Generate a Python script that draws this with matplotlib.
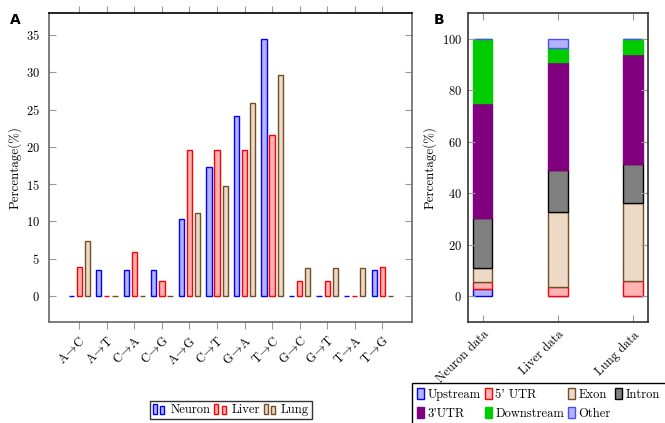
import matplotlib
matplotlib.use("Agg")
import matplotlib.pyplot as plt
from matplotlib.patches import Rectangle
from matplotlib.legend_handler import HandlerBase
import numpy as np

plt.rcParams['font.family'] = ['cmr10', 'DejaVu Serif']
plt.rcParams['mathtext.fontset'] = 'cm'
plt.rcParams['axes.unicode_minus'] = False
plt.rcParams['axes.formatter.use_mathtext'] = True

# ---------------- data ----------------
mutations = ['A$\\!\\rightarrow\\!$C', 'A$\\!\\rightarrow\\!$T', 'C$\\!\\rightarrow\\!$A', 'C$\\!\\rightarrow\\!$G',
             'A$\\!\\rightarrow\\!$G', 'C$\\!\\rightarrow\\!$T', 'G$\\!\\rightarrow\\!$A', 'T$\\!\\rightarrow\\!$C',
             'G$\\!\\rightarrow\\!$C', 'G$\\!\\rightarrow\\!$T', 'T$\\!\\rightarrow\\!$A', 'T$\\!\\rightarrow\\!$G']
neuron = [0, 3.45, 3.45, 3.45, 10.34, 17.24, 24.14, 34.48, 0, 0, 0, 3.45]
liver = [3.92, 0, 5.88, 1.96, 19.61, 19.61, 19.61, 21.57, 1.96, 1.96, 0, 3.92]
lung = [7.41, 0, 0, 0, 11.11, 14.81, 25.93, 29.63, 3.70, 3.70, 3.70, 0]
series_names = ['Neuron', 'Liver', 'Lung']

datasets = ['Neuron data', 'Liver data', 'Lung data']
regions = ['Upstream', "5' UTR", 'Exon', 'Intron', "3'UTR", 'Downstream', 'Other']
region_values = {
    'Upstream':   [2.7, 0.0, 0.0],
    "5' UTR":     [2.9, 3.6, 6.0],
    'Exon':       [5.4, 29.1, 30.3],
    'Intron':     [19.5, 16.3, 15.1],
    "3'UTR":      [44.5, 42.0, 42.6],
    'Downstream': [25.0, 5.4, 6.0],
    'Other':      [0.0, 3.6, 0.0],
}

# ---------------- styles ----------------
brown = (0.75, 0.5, 0.25)
def tint(c, f=0.3):
    return tuple(1 - f * (1 - v) for v in c)

series_style = [
    dict(fc=tint((0, 0, 1)), ec=(0, 0, 1)),
    dict(fc=tint((1, 0, 0)), ec=(1, 0, 0)),
    dict(fc=tint(brown), ec=(0.45, 0.3, 0.15)),
]
region_style = {
    'Upstream':   dict(fc=tint((0, 0, 1)), ec=(0, 0, 1)),
    "5' UTR":     dict(fc=tint((1, 0, 0)), ec=(1, 0, 0)),
    'Exon':       dict(fc=tint(brown), ec=(0.45, 0.3, 0.15)),
    'Intron':     dict(fc=(0.5, 0.5, 0.5), ec=(0, 0, 0)),
    "3'UTR":      dict(fc=(0.5, 0, 0.5), ec=(0.5, 0, 0.5)),
    'Downstream': dict(fc=(0, 0.8, 0), ec=(0, 0.8, 0)),
    'Other':      dict(fc=tint((0, 0, 1)), ec=(0.3, 0.3, 1)),
}

FS = 9
W, H = 665, 423
fig = plt.figure(figsize=(W / 100, H / 100), dpi=100)

def fx(px):
    return px / W
def fy(py):
    return 1 - py / H

axA = fig.add_axes([fx(49.3), fy(321.7), fx(412.3) - fx(49.3), fy(13.3) - fy(321.7)])
axB = fig.add_axes([fx(467.7), fy(321.7), fx(648) - fx(467.7), fy(13.3) - fy(321.7)])

# ---------------- panel A ----------------
x = np.arange(len(mutations))
offs = [-0.295, 0.0, 0.295]
bw = 0.19
bars = []
for vals, off, st in zip([neuron, liver, lung], offs, series_style):
    b = axA.bar(x + off, vals, width=bw, facecolor=st['fc'], edgecolor=st['ec'], linewidth=1.0)
    bars.append(b)
axA.set_xlim(-1.09, 12.09)
axA.set_ylim(-3.45, 37.9)
axA.set_yticks(np.arange(0, 36, 5))
axA.set_xticks(x)
axA.set_xticklabels(mutations, rotation=45, ha='right', va='top', rotation_mode='anchor')
axA.tick_params(axis='y', direction='in', left=True, right=True, length=5, color='#999999',
                labelsize=FS, pad=7)
axA.tick_params(axis='x', direction='out', bottom=True, top=True, length=5, color='#999999',
                labelsize=FS, pad=4)
axA.set_ylabel('Percentage(%)', fontsize=FS + 0.3, labelpad=3)
for s in ['left', 'bottom', 'right']:
    axA.spines[s].set_color('#666666')
    axA.spines[s].set_linewidth(1.2)
axA.spines['top'].set_color('black')
axA.spines['top'].set_linewidth(1.2)


class TwoBarHandler(HandlerBase):
    def __init__(self, fc, ec):
        super().__init__()
        self.fc, self.ec = fc, ec

    def create_artists(self, legend, orig_handle, xdescent, ydescent, width, height, fontsize, trans):
        arts = []
        bwid = width * 0.28
        for i, hh in enumerate([height * 1.0, height * 0.8]):
            r = Rectangle((-xdescent + i * width * 0.5, -ydescent), bwid, hh,
                          facecolor=self.fc, edgecolor=self.ec, linewidth=1.0, transform=trans)
            arts.append(r)
        return arts

handler_map = {bars[i]: TwoBarHandler(series_style[i]['fc'], series_style[i]['ec']) for i in range(3)}
legA = fig.legend(bars, series_names, handler_map=handler_map, loc='center',
                  bbox_to_anchor=(fx(231), fy(410)), ncol=3, fontsize=FS, frameon=True,
                  fancybox=False, edgecolor='black', handlelength=1.2, handleheight=0.9,
                  handletextpad=0.2, columnspacing=0.3, borderpad=0.25, borderaxespad=0)
legA.get_frame().set_linewidth(1.0)

# ---------------- panel B ----------------
xb = np.arange(len(datasets))
bottom = np.zeros(len(datasets))
handlesB = {}
for r in regions:
    vals = np.array(region_values[r])
    st = region_style[r]
    b = axB.bar(xb, vals, bottom=bottom, width=0.26, facecolor=st['fc'], edgecolor=st['ec'], linewidth=1.0)
    handlesB[r] = b
    bottom += vals
axB.set_xlim(-0.2, 2.2)
axB.set_ylim(-10, 110)
axB.set_yticks(np.arange(0, 101, 20))
axB.set_xticks(xb)
axB.set_xticklabels(datasets, rotation=45, ha='right', va='top', rotation_mode='anchor')
axB.tick_params(axis='both', direction='in', left=True, right=True, top=True, bottom=True,
                length=5, color='#999999', labelsize=FS)
axB.tick_params(axis='y', pad=4)
axB.tick_params(axis='x', pad=5)
axB.set_ylabel('Percentage(%)', fontsize=FS + 0.3, labelpad=4)
for s in axB.spines.values():
    s.set_color('#333333')
    s.set_linewidth(1.2)

# row-wise legend order for 4 columns: column-major fill
leg_order = ['Upstream', "3'UTR", "5' UTR", 'Downstream', 'Exon', 'Other', 'Intron']
legB = fig.legend([handlesB[k] for k in leg_order], leg_order, loc='upper left',
                  bbox_to_anchor=(fx(412.3), fy(383.3)),
                  ncol=4, fontsize=FS, frameon=False,
                  handlelength=0.55, handleheight=1.0, handletextpad=0.3, columnspacing=0.3,
                  borderpad=0.4, labelspacing=0.45, borderaxespad=0)
# legend frame runs past the figure edge, as in the reference
fig.add_artist(Rectangle((fx(412.3), fy(440)), fx(700) - fx(412.3), fy(383.3) - fy(440),
                         transform=fig.transFigure, fill=False, edgecolor='black',
                         linewidth=1.0, clip_on=False))

fig.text(fx(15), fy(20), 'A', fontsize=10, fontweight='bold', family='DejaVu Sans', ha='center', va='center')
fig.text(fx(439), fy(20), 'B', fontsize=10, fontweight='bold', family='DejaVu Sans', ha='center', va='center')

fig.savefig('out.png', dpi=100)
